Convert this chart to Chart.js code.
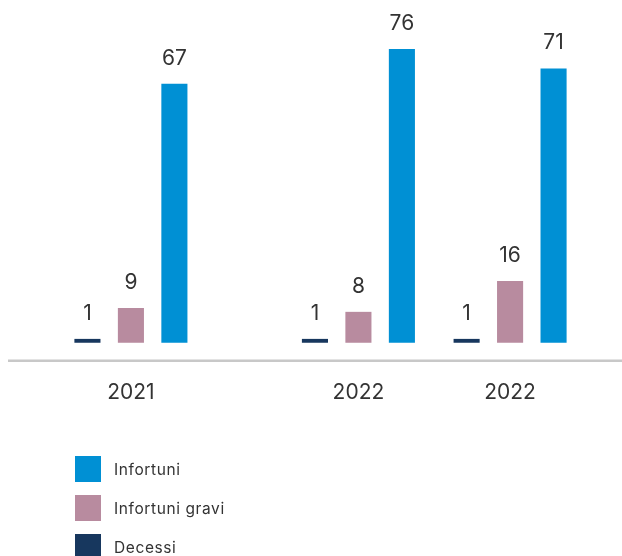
<!DOCTYPE html>
<html>
<head>
<meta charset="utf-8">
<script src="https://cdn.jsdelivr.net/npm/chart.js@4/dist/chart.umd.min.js"></script>
<style>
  html, body { margin: 0; padding: 0; background: #fff; }
  #wrap { position: relative; width: 622px; height: 556px; overflow: hidden; }
  #legend { position: absolute; left: 75px; top: 456px; font-family: "Inter", "Noto Sans", sans-serif; font-size: 15.5px; letter-spacing: 0.6px; color: #333; }
  .item { display: flex; align-items: center; height: 26px; margin-bottom: 13px; }
  .box { width: 26px; height: 26px; margin-right: 13px; }
</style>
</head>
<body>
<div id="wrap">
  <canvas id="c" width="622" height="556"></canvas>
  <div id="legend"></div>
</div>
<script>
// categories (blank entries are spacers between groups)
const categories = ["2021", "", "", "2022", "", "2022"];
const decessi = [1, null, null, 1, null, 1];
const infortuniGravi = [9, null, null, 8, null, 16];
const infortuni = [67, null, null, 76, null, 71];
const seriesNames = ["Decessi", "Infortuni gravi", "Infortuni"];
const seriesColors = ["#17375E", "#B88B9F", "#0090D4"];

const FONT = '"Inter", "Noto Sans", sans-serif';

const valueLabels = {
  id: 'valueLabels',
  afterDatasetsDraw(chart) {
    const ctx = chart.ctx;
    ctx.save();
    ctx.font = '21px ' + FONT;
    ctx.fillStyle = '#333';
    ctx.textAlign = 'center';
    ctx.textBaseline = 'alphabetic';
    chart.data.datasets.forEach((ds, i) => {
      chart.getDatasetMeta(i).data.forEach((bar, j) => {
        const v = ds.data[j];
        if (v === null || v === undefined) return;
        ctx.fillText(String(v), bar.x, bar.y - 19);
      });
    });
    ctx.restore();
  }
};

const axisLine = {
  id: 'axisLine',
  beforeDatasetsDraw(chart) {
    const ctx = chart.ctx;
    const y = chart.scales.x.top;
    ctx.save();
    ctx.strokeStyle = '#c8c8c8';
    ctx.lineWidth = 2.5;
    ctx.beginPath();
    ctx.moveTo(8, y);
    ctx.lineTo(chart.width, y);
    ctx.stroke();
    ctx.restore();
  }
};

const data = [decessi, infortuniGravi, infortuni];

new Chart(document.getElementById('c'), {
  type: 'bar',
  data: {
    labels: categories,
    datasets: seriesNames.map((n, i) => ({
      label: n,
      data: data[i],
      backgroundColor: seriesColors[i],
      borderWidth: 0,
      clip: false,
      categoryPercentage: 1.72,
      barPercentage: 0.6
    }))
  },
  options: {
    responsive: false,
    animation: false,
    layout: { padding: { left: 93, right: 74, top: 0, bottom: 132 } },
    plugins: { legend: { display: false }, tooltip: { enabled: false } },
    scales: {
      x: {
        grid: { display: false, drawTicks: false },
        border: { display: false },
        ticks: { color: '#333', font: { family: FONT, size: 21 }, padding: 19, autoSkip: false, maxRotation: 0 }
      },
      y: {
        display: false,
        min: -4.67,
        max: 88.7
      }
    }
  },
  plugins: [valueLabels, axisLine]
});

const legend = document.getElementById('legend');
[2, 1, 0].forEach(i => {
  const it = document.createElement('div');
  it.className = 'item';
  const b = document.createElement('div');
  b.className = 'box';
  b.style.background = seriesColors[i];
  const t = document.createElement('span');
  t.textContent = seriesNames[i];
  it.appendChild(b); it.appendChild(t);
  legend.appendChild(it);
});
</script>
</body>
</html>
